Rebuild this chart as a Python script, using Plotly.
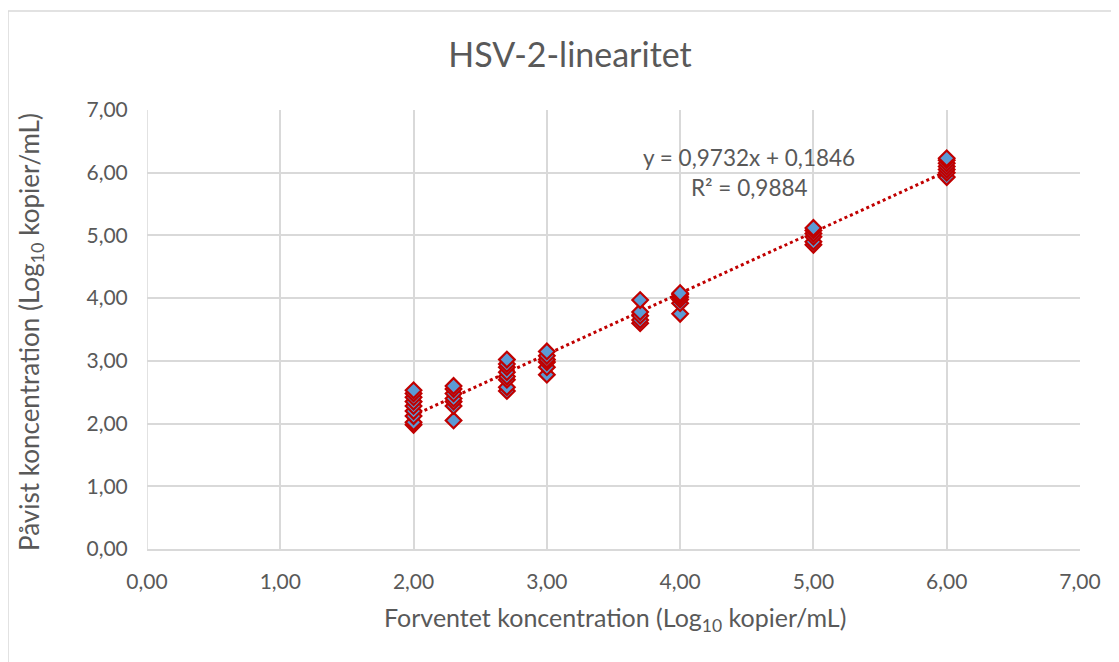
import plotly.graph_objects as go

# Data (log10 copies/mL)
x_expected = (
    [2.00] * 9 + [2.30] * 7 + [2.70] * 8 + [3.00] * 6 +
    [3.70] * 5 + [4.00] * 6 + [5.00] * 6 + [6.00] * 7
)
y_detected = [
    1.98, 2.02, 2.12, 2.20, 2.28, 2.35, 2.42, 2.48, 2.53,
    2.05, 2.28, 2.35, 2.40, 2.48, 2.55, 2.60,
    2.52, 2.58, 2.70, 2.75, 2.82, 2.90, 2.95, 3.02,
    2.78, 2.90, 2.98, 3.02, 3.08, 3.15,
    3.60, 3.65, 3.72, 3.78, 3.97,
    3.75, 3.92, 3.98, 4.02, 4.06, 4.08,
    4.85, 4.90, 4.98, 5.03, 5.08, 5.12,
    5.93, 6.00, 6.05, 6.10, 6.15, 6.20, 6.23,
]
slope = 0.9732
intercept = 0.1846
r_squared = 0.9884
tick_values = [0, 1, 2, 3, 4, 5, 6, 7]

FONT = "Lato, Carlito, Calibri, sans-serif"
GREY = "#595959"
GRID = "#D9D9D9"

W, H = 1111, 654
L, R, T, B = 139, 39, 102, 113
PW, PH = W - L - R, H - T - B

x_min, x_max = min(x_expected), max(x_expected)
trend_x = [x_min, x_max]
trend_y = [slope * v + intercept for v in trend_x]

fig = go.Figure()
fig.add_trace(go.Scatter(
    x=trend_x, y=trend_y, mode="lines",
    line=dict(color="#C00000", width=3, dash="dot"),
    hoverinfo="skip", showlegend=False,
))
fig.add_trace(go.Scatter(
    x=x_expected, y=y_detected, mode="markers",
    marker=dict(symbol="diamond", size=12, color="#5B9BD5",
                line=dict(color="#C00000", width=2.2)),
    showlegend=False,
))

fig.update_layout(
    width=W, height=H,
    margin=dict(l=L, r=R, t=T, b=B),
    paper_bgcolor="white", plot_bgcolor="white",
    separators=", ",
    font=dict(family=FONT, color=GREY, size=21),
    title=dict(text="HSV-2-linearitet", x=562 / W,
               xanchor="center", y=1 - 47 / H, yanchor="middle",
               font=dict(size=34, color=GREY, family=FONT)),
    xaxis=dict(range=[0, 7], tickvals=tick_values, tickformat=".2f",
               showgrid=True, gridcolor=GRID, gridwidth=1.5,
               zeroline=False, showline=True, linecolor=GRID, linewidth=1.5,
               ticks="outside", ticklen=13, tickcolor="rgba(0,0,0,0)",
               tickfont=dict(size=21, color=GREY)),
    yaxis=dict(range=[0, 7], tickvals=tick_values, tickformat=".2f",
               showgrid=True, gridcolor=GRID, gridwidth=1.5,
               zeroline=False, showline=False,
               ticks="outside", ticklen=14, tickcolor="rgba(0,0,0,0)",
               tickfont=dict(size=21, color=GREY)),
)

# vertical gridline at x=0 (left edge)
fig.add_shape(type="line", xref="x", yref="y", x0=0, x1=0, y0=0, y1=7,
              line=dict(color=GRID, width=1.5), layer="below")

# outer chart border
fig.add_shape(type="rect", xref="paper", yref="paper",
              x0=(0 - L) / PW, x1=(W + 20 - L) / PW,
              y0=-0.5, y1=(T + PH - 3) / PH,
              line=dict(color=GRID, width=1.5), fillcolor="rgba(0,0,0,0)")

# axis titles
fig.add_annotation(x=(607 - L) / PW, y=(PH - (611 - T)) / PH,
                   xref="paper", yref="paper", showarrow=False,
                   xanchor="center", yanchor="middle",
                   text="Forventet koncentration (Log<sub>10</sub> kopier/mL)",
                   font=dict(size=25, color=GREY))
fig.add_annotation(x=(22 - L) / PW, y=(PH - (324 - T)) / PH,
                   xref="paper", yref="paper", showarrow=False, textangle=-90,
                   xanchor="center", yanchor="middle",
                   text="Påvist koncentration (Log<sub>10</sub> kopier/mL)",
                   font=dict(size=26, color=GREY))

eq = f"y = {slope:.4f}x + {intercept:.4f}".replace(".", ",")
r2 = f"R² = {r_squared:.4f}".replace(".", ",")
fig.add_annotation(x=4.52, y=6.235, xref="x", yref="y", text=eq,
                   showarrow=False, xanchor="center", yanchor="middle",
                   font=dict(size=22.5, color=GREY))
fig.add_annotation(x=4.52, y=5.757, xref="x", yref="y", text=r2,
                   showarrow=False, xanchor="center", yanchor="middle",
                   font=dict(size=22.5, color=GREY))

fig.write_html("out.html")
